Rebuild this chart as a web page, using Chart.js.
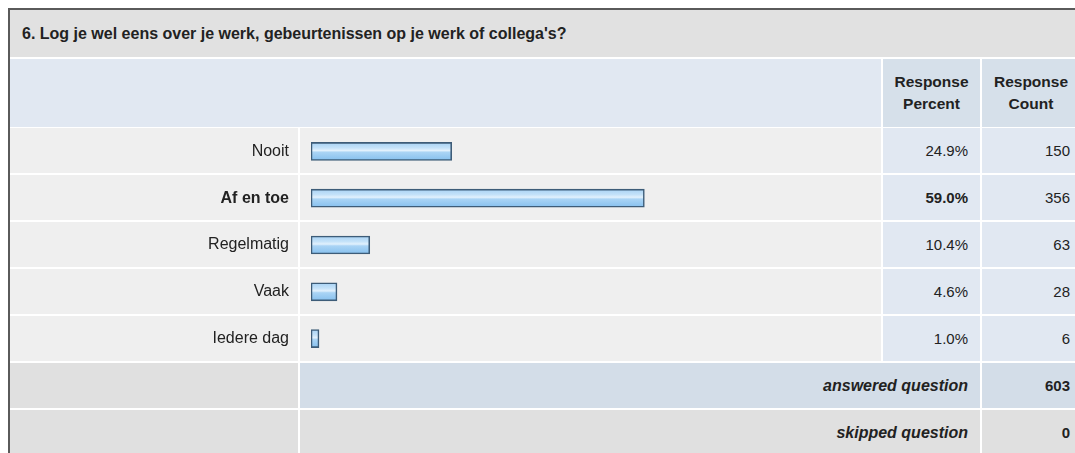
<!DOCTYPE html>
<html>
<head>
<meta charset="utf-8">
<script src="https://cdn.jsdelivr.net/npm/chart.js@4/dist/chart.umd.min.js"></script>
<style>
  html,body{margin:0;padding:0;background:#fff;width:1075px;height:453px;overflow:hidden;}
  body{position:relative;font-family:"Liberation Sans",Arial,Helvetica,sans-serif;font-size:15px;color:#222;}
  .frame{position:absolute;left:8px;top:8px;width:1080px;height:460px;border-left:2px solid #5a5a5a;border-top:2px solid #5a5a5a;}
  .c{position:absolute;box-sizing:border-box;display:flex;align-items:center;}
  .r{justify-content:flex-end;}
  .title{font-weight:bold;font-size:16px;padding-left:12px;}
  .hd{font-weight:bold;font-size:15.5px;justify-content:center;text-align:center;line-height:22px;}
  .b{font-weight:bold;}
  .bi{font-weight:bold;font-style:italic;font-size:16px;}
</style>
</head>
<body>
<div class="frame"></div>
<div id="cells"></div>
<canvas id="barChart" width="873" height="234"></canvas>
<script>
const question = "6. Log je wel eens over je werk, gebeurtenissen op je werk of collega's?";
const answers = ['Nooit', 'Af en toe', 'Regelmatig', 'Vaak', 'Iedere dag'];
const percents = [24.9, 59.0, 10.4, 4.6, 1.0];
const counts = [150, 356, 63, 28, 6];
const boldRow = 1;
const answeredCount = 603;
const skippedCount = 0;

const FONT = '"Liberation Sans", Arial, Helvetica, sans-serif';
const cells = document.getElementById('cells');
function cell(x, y, w, h, bg, html, cls, pad){
  const d = document.createElement('div');
  d.className = 'c ' + (cls || '');
  d.style.cssText = `left:${x}px;top:${y}px;width:${w}px;height:${h}px;background:${bg};` + (pad || '');
  d.innerHTML = html ?? '';
  cells.appendChild(d);
}

// title + header
cell(10, 10, 1070, 47, '#e1e1e1', question, 'title');
cell(10, 59, 871, 68, '#e1e8f2');
cell(883, 59, 97, 68, '#d6e0ea', 'Response<br>Percent', 'hd');
cell(982, 59, 98, 68, '#d6e0ea', 'Response<br>Count', 'hd');

// answer rows
answers.forEach((a, i) => {
  const y = 128 + i * 47;
  const cls = i === boldRow ? 'r b' : 'r';
  cell(10, y, 288, 45, '#efefef');
  cell(300, y, 581, 45, '#efefef');
  cell(883, y, 97, 45, '#e1e8f2', percents[i].toFixed(1) + '%', cls, 'padding-right:12px;');
  cell(982, y, 98, 45, '#e1e8f2', String(counts[i]), 'r', 'padding-right:10px;');
});

// totals
cell(10, 363, 288, 45, '#e0e0e0');
cell(300, 363, 680, 45, '#d3dde8', 'answered question', 'r bi', 'padding-right:12px;');
cell(982, 363, 98, 45, '#d3dde8', String(answeredCount), 'r b', 'padding-right:10px;');
cell(10, 410, 288, 50, '#e0e0e0');
cell(300, 410, 680, 45, '#e0e0e0', 'skipped question', 'r bi', 'padding-right:12px;');
cell(982, 410, 98, 45, '#e0e0e0', String(skippedCount), 'r b', 'padding-right:10px;');

const cv = document.getElementById('barChart');
cv.style.cssText = 'position:absolute;left:10px;top:128px;';

const BAR_H = 18;
function barFill(ctx){
  const chart = ctx.chart;
  const ys = chart.scales && chart.scales.y;
  if(!ys || ys.top === undefined) return '#aad4f5';
  const yc = ys.getPixelForValue(ctx.dataIndex);
  const g = chart.ctx.createLinearGradient(0, yc - BAR_H / 2, 0, yc + BAR_H / 2);
  g.addColorStop(0, '#a8d2f4');
  g.addColorStop(0.3, '#c4e2f9');
  g.addColorStop(0.45, '#e2f1fd');
  g.addColorStop(0.55, '#aad4f5');
  g.addColorStop(1, '#86c0ee');
  return g;
}

new Chart(cv, {
  type: 'bar',
  data: {
    labels: answers,
    datasets: [{
      data: percents,
      backgroundColor: barFill,
      borderColor: '#3d5c78',
      borderWidth: 1.6,
      borderSkipped: false,
      barThickness: BAR_H,
      minBarLength: 8
    }]
  },
  options: {
    indexAxis: 'y',
    responsive: false,
    animation: false,
    layout: {padding: {left: 0, right: 7, top: 0, bottom: 0}},
    plugins: {legend: {display: false}, tooltip: {enabled: false}},
    scales: {
      x: {display: false, min: 0, max: 100},
      y: {
        grid: {display: false, drawTicks: false},
        border: {display: false},
        // fixed label column, no extra room above/below the rows
        afterFit: s => { s.width = 301; s.paddingTop = 0; s.paddingBottom = 0; },
        ticks: {
          padding: 22,
          color: '#222',
          font: c => ({family: FONT, size: 16, weight: c.index === boldRow ? 'bold' : 'normal'})
        }
      }
    }
  }
});
</script>
</body>
</html>
